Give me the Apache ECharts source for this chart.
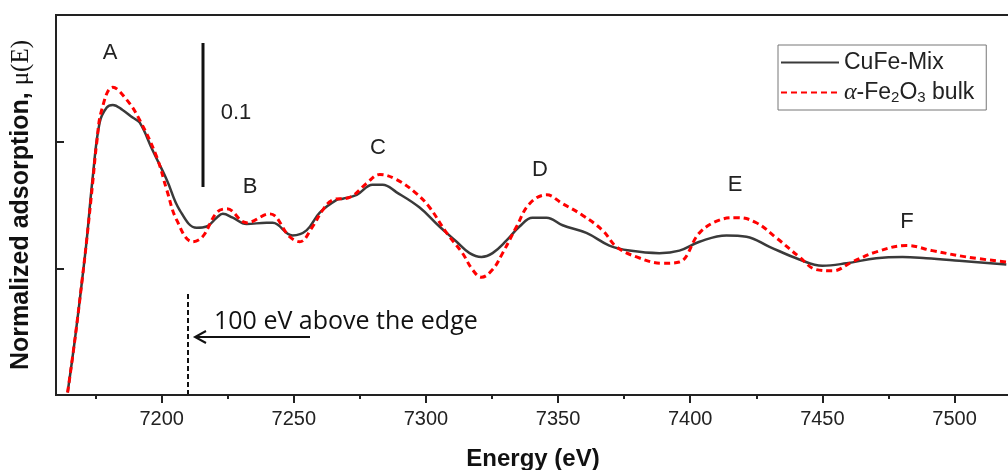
<!DOCTYPE html>
<html>
<head>
<meta charset="utf-8">
<script src="https://cdn.jsdelivr.net/npm/echarts@6/dist/echarts.min.js"></script>
<style>
html, body { margin: 0; padding: 0; background: #fff; }
#chart { width: 1008px; height: 470px; }
</style>
</head>
<body>
<div id="chart"></div>
<script>
// CuFe-Mix, solid line (energy in eV, normalized absorption)
const mixEnergy = [7164.4, 7167.1, 7169.9, 7171.6, 7173.9, 7176.5, 7179.2, 7181.5, 7185.2, 7189.0,
  7191.7, 7196.6, 7201.9, 7206.8, 7213.2, 7217.0, 7220.8, 7223.1, 7226.9, 7232.1,
  7239.7, 7242.0, 7249.5, 7254.8, 7259.8, 7266.2, 7268.5, 7273.8, 7279.8, 7283.6,
  7288.9, 7297.6, 7305.1, 7311.6, 7316.5, 7321.0, 7325.2, 7330.5, 7335.4, 7340.3,
  7345.6, 7351.7, 7360.7, 7369.4, 7377.0, 7388.3, 7395.9, 7403.5, 7413.7, 7421.3,
  7430.0, 7441.3, 7450.0, 7459.1, 7470.4, 7480.3, 7489.3, 7501.8, 7519.6];
const mixMu = [0.002, 0.043, 0.091, 0.122, 0.172, 0.215, 0.227, 0.229, 0.225, 0.219,
  0.215, 0.193, 0.170, 0.146, 0.132, 0.133, 0.140, 0.143, 0.140, 0.135,
  0.136, 0.136, 0.126, 0.130, 0.144, 0.154, 0.155, 0.158, 0.166, 0.166,
  0.160, 0.148, 0.133, 0.121, 0.112, 0.109, 0.112, 0.122, 0.133, 0.140,
  0.140, 0.134, 0.128, 0.118, 0.114, 0.112, 0.114, 0.121, 0.126, 0.125,
  0.117, 0.107, 0.102, 0.104, 0.108, 0.109, 0.108, 0.106, 0.103];

// alpha-Fe2O3 bulk, red dashed line
const bulkEnergy = [7164.4, 7167.1, 7169.9, 7171.6, 7173.9, 7175.4, 7177.3, 7181.5, 7186.8, 7191.7,
  7198.1, 7201.9, 7205.7, 7211.7, 7215.5, 7220.8, 7224.6, 7232.1, 7240.8, 7248.4,
  7252.2, 7257.1, 7260.9, 7264.7, 7271.1, 7277.5, 7282.5, 7288.9, 7296.4, 7301.4,
  7307.8, 7313.8, 7317.6, 7321.0, 7325.2, 7329.0, 7334.3, 7339.2, 7345.6, 7351.7,
  7359.2, 7366.8, 7372.1, 7379.7, 7389.5, 7395.9, 7403.5, 7411.0, 7417.9, 7425.0,
  7432.6, 7441.3, 7447.7, 7453.8, 7461.3, 7470.4, 7481.8, 7491.6, 7504.5, 7519.6];
const bulkMu = [0.002, 0.043, 0.091, 0.122, 0.168, 0.199, 0.225, 0.243, 0.233, 0.217,
  0.188, 0.162, 0.138, 0.121, 0.125, 0.144, 0.147, 0.136, 0.143, 0.125,
  0.121, 0.133, 0.146, 0.154, 0.156, 0.167, 0.174, 0.170, 0.159, 0.148,
  0.128, 0.112, 0.099, 0.093, 0.099, 0.112, 0.133, 0.151, 0.158, 0.151,
  0.142, 0.130, 0.117, 0.109, 0.104, 0.105, 0.128, 0.138, 0.140, 0.136,
  0.124, 0.109, 0.099, 0.098, 0.105, 0.113, 0.118, 0.114, 0.109, 0.105];

const majorTicks = [7200, 7250, 7300, 7350, 7400, 7450, 7500];
const minorTicks = [7175, 7225, 7275, 7325, 7375, 7425, 7475];
const seriesNames = ['CuFe-Mix', 'α-Fe2O3 bulk'];

const zip = (xs, ys) => xs.map((x, i) => [x, ys[i]]);

const chart = echarts.init(document.getElementById('chart'));

const sans = 'Liberation Sans';
const axisColor = '#222';

// peak letters and annotations (pixel positions)
const letters = [
  { t: 'A', x: 110, y: 53 }, { t: 'B', x: 250, y: 187 }, { t: 'C', x: 378, y: 148 },
  { t: 'D', x: 540, y: 170 }, { t: 'E', x: 735, y: 185 }, { t: 'F', x: 907, y: 222 }
];
const graphics = letters.map(l => ({
  type: 'text', x: l.x, y: l.y,
  style: { text: l.t, font: '22px ' + sans, fill: '#222', align: 'center', verticalAlign: 'middle' }
}));
graphics.push(
  { type: 'line', shape: { x1: 203, y1: 43, x2: 203, y2: 187 }, style: { stroke: '#111', lineWidth: 3 } },
  { type: 'text', x: 236, y: 113, style: { text: '0.1', font: '22px ' + sans, fill: '#222', align: 'center', verticalAlign: 'middle' } },
  { type: 'line', shape: { x1: 188, y1: 294, x2: 188, y2: 395 }, style: { stroke: '#111', lineWidth: 2, lineDash: [5, 3] } },
  { type: 'line', shape: { x1: 310, y1: 337, x2: 195, y2: 337 }, style: { stroke: '#111', lineWidth: 2 } },
  { type: 'polyline', shape: { points: [[206, 331], [195, 337], [206, 343]] }, style: { stroke: '#111', lineWidth: 2, fill: null } },
  { type: 'text', x: 214, y: 322, style: { text: '100 eV above the edge', font: '25px "Open Sans"', fill: '#111', verticalAlign: 'middle' } }
);

const option = {
  animation: false,
  backgroundColor: '#fff',
  grid: {
    left: 56, right: -2, top: 15, bottom: 75,
    outerBoundsMode: 'none', containLabel: false,
    show: true, borderColor: axisColor, borderWidth: 2
  },
  legend: {
    orient: 'vertical',
    left: 778, top: 45,
    padding: [5, 12, 5, 2],
    itemWidth: 58, itemHeight: 14, itemGap: 5,
    borderColor: '#777', borderWidth: 1,
    itemStyle: { color: 'transparent', borderWidth: 0 },
    data: seriesNames,
    formatter: name => name === seriesNames[1]
      ? '{g|α}-Fe{s|2}O{s|3} bulk'
      : name,
    textStyle: {
      fontFamily: sans, fontSize: 23, color: '#222', lineHeight: 25,
      rich: {
        g: { fontFamily: 'Liberation Serif', fontStyle: 'italic', fontSize: 24, color: '#222' },
        s: { fontFamily: sans, fontSize: 15, color: '#222', verticalAlign: 'bottom', padding: [10, 0, 0, 0] }
      }
    }
  },
  xAxis: [{
    type: 'value', min: 7160, max: 7521,
    name: 'Energy (eV)', nameLocation: 'middle', nameGap: 52,
    nameTextStyle: { fontFamily: sans, fontWeight: 'bold', fontSize: 24, color: '#111' },
    axisLine: { lineStyle: { color: axisColor, width: 2 } },
    axisTick: { customValues: majorTicks, length: 8, lineStyle: { color: axisColor, width: 2 } },
    axisLabel: {
      customValues: majorTicks, margin: 14, fontFamily: sans, fontSize: 20, color: '#222',
      formatter: v => String(v)
    },
    splitLine: { show: false }
  }, {
    type: 'value', min: 7160, max: 7521, position: 'bottom',
    axisLine: { show: false },
    axisTick: { customValues: minorTicks, length: 4, lineStyle: { color: axisColor, width: 2 } },
    axisLabel: { show: false },
    splitLine: { show: false }
  }],
  yAxis: {
    type: 'value', min: 0, max: 0.3, interval: 0.1,
    name: '{b|Normalized adsorption, }{m|μ(E)}', nameLocation: 'middle', nameGap: 22, nameRotate: 90,
    nameTextStyle: {
      rich: {
        b: { fontFamily: sans, fontWeight: 'bold', fontSize: 25, color: '#111' },
        m: { fontFamily: 'Liberation Serif', fontSize: 25, color: '#111' }
      }
    },
    axisLine: { lineStyle: { color: axisColor, width: 2 } },
    axisTick: { inside: true, length: 8, lineStyle: { color: axisColor, width: 2 } },
    axisLabel: { show: false },
    splitLine: { show: false }
  },
  series: [{
    name: seriesNames[0], type: 'line', symbol: 'none', smooth: 0.4, z: 3,
    data: zip(mixEnergy, mixMu),
    lineStyle: { color: '#3a3a3a', width: 2.5 },
    itemStyle: { color: '#3a3a3a' }
  }, {
    name: seriesNames[1], type: 'line', symbol: 'none', smooth: 0.4, z: 4,
    data: zip(bulkEnergy, bulkMu),
    lineStyle: { color: '#ff0000', width: 3, type: [6, 4] },
    itemStyle: { color: '#ff0000' }
  }],
  graphic: graphics
};

chart.setOption(option);
</script>
</body>
</html>
